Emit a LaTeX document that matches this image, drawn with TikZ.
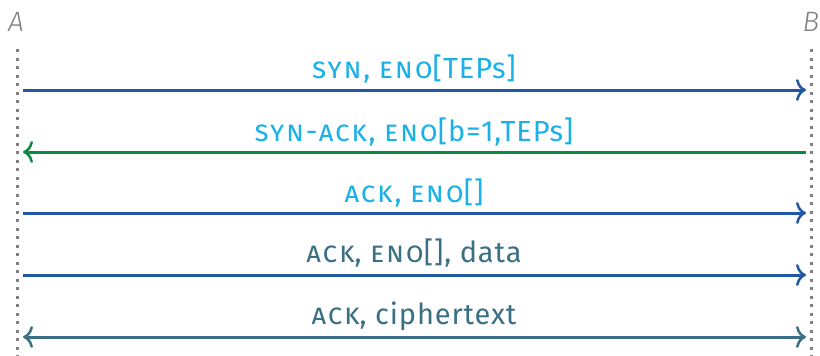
\documentclass[tikz,border=0pt]{standalone}
\usepackage{fontspec}
\setmainfont{Fira Sans}[LetterSpace=3]
\newfontfamily\partyfont{Fira Sans Light}
\newcommand\smc[1]{{\addfontfeature{LetterSpace=6}\scshape #1}}
\usetikzlibrary{arrows.meta}
\definecolor{arrblue}{HTML}{2157A3}
\definecolor{arrgreen}{HTML}{0B8A45}
\definecolor{teal2}{HTML}{3A6F84}
\definecolor{cyan2}{HTML}{1AB0E8}
\definecolor{lifegray}{HTML}{808080}
\tikzset{
  lifeline/.style={lifegray, line width=3pt, dash pattern=on 3pt off 5.5pt},
  party/.style={font=\fontsize{28}{30}\partyfont\itshape, text=lifegray, inner sep=0pt, anchor=base},
  msg/.style={line width=3pt, -{Computer Modern Rightarrow[length=10pt,width=22pt,line width=2.5pt]}},
  lbl/.style={font=\fontsize{29}{32}\selectfont, inner sep=0pt, anchor=base},
}
\begin{document}
\begin{tikzpicture}[x=1pt,y=-1pt]
\useasboundingbox (0,0) rectangle (820,356);
\node[party] (A) at (16,31) {A};
\node[party] (B) at (811,31) {B};
\coordinate (At) at (17,49);
\coordinate (Ab) at (17,356);
\coordinate (Bt) at (811,49);
\coordinate (Bb) at (811,356);
\draw[lifeline] (At) -- (Ab);
\draw[lifeline] (Bt) -- (Bb);
% message endpoints
\foreach \i/\y in {1/90,2/152,3/213,4/275,5/337}{
  \coordinate (l\i) at (23,\y);
  \coordinate (r\i) at (806,\y);
}
\draw[msg, arrblue] (l1) -- (r1);
\draw[msg, arrgreen] (r2) -- (l2);
\draw[msg, arrblue] (l3) -- (r3);
\draw[msg, arrblue] (l4) -- (r4);
\draw[msg, teal2, {Computer Modern Rightarrow[length=10pt,width=22pt,line width=2.5pt]}-{Computer Modern Rightarrow[length=10pt,width=22pt,line width=2.5pt]}] (l5) -- (r5);
\node[lbl, text=cyan2] (m1) at (414,78) {\smc{syn,} \smc{eno}[TEPs]};
\node[lbl, text=cyan2] (m2) at (414,141) {\smc{syn-ack,} \smc{eno}[b=1,TEPs]};
\node[lbl, text=cyan2] (m3) at (414,202) {\smc{ack,} \smc{eno}[]};
\node[lbl, text=teal2] (m4) at (414,262) {\smc{ack}, \smc{eno}[], data};
\node[lbl, text=teal2] (m5) at (414,324) {\smc{ack}, ciphertext};
\end{tikzpicture}
\end{document}
